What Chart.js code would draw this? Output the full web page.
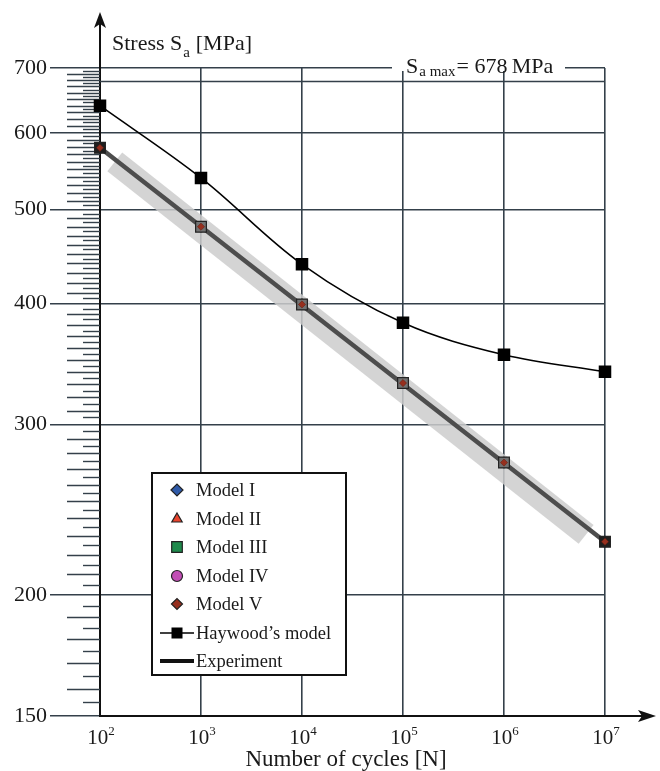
<!DOCTYPE html>
<html><head><meta charset="utf-8">
<script src="https://cdn.jsdelivr.net/npm/chart.js@4/dist/chart.umd.min.js"></script>
<style>html,body{margin:0;padding:0;background:#fff}#wrap{width:660px;height:771px}</style>
</head><body><div id="wrap"><canvas id="c" width="660" height="771"></canvas></div>
<script>
// ---- data ----
const cycles = [1e2, 1e3, 1e4, 1e5, 1e6, 1e7];
const haywoodStress = [640, 539, 439, 382, 354, 340];
const modelStress = [579, 480, 399, 331, 274, 227];
const experimentCycles = [1e2, 1e7];
const experimentStress = [579, 227];
const bandCycles = [140, 6.5e6];
const bandStress = [560, 231];
const yTickValues = [150, 200, 300, 400, 500, 600, 700];
const xTickValues = [1e2, 1e3, 1e4, 1e5, 1e6, 1e7];
const xTickExponents = ['2', '3', '4', '5', '6', '7'];
const sMax = 678;
const modelNames = ['Model I', 'Model II', 'Model III', 'Model IV', 'Model V'];

const SERIF = '"Liberation Serif", "DejaVu Serif", serif';
const GRID = '#34404a';
const pts = (xs, ys) => xs.map((x, i) => ({x: x, y: ys[i]}));

const modelStyles = [
  {style: 'rectRot', r: 5, fill: '#2f5aa8', order: 4, lr: 6},
  {style: 'triangle', r: 5, fill: '#e8442e', order: 4, lr: 6},
  {style: 'rect', r: 7.6, fill: ['#1e1e1e', '#727272', '#727272', '#727272', '#727272', '#1e1e1e'], legendFill: '#1f8a4c', order: 2, lr: 7.5},
  {style: 'circle', r: 5, fill: '#c24fb5', order: 4, lr: 5.5},
  {style: 'rectRot', r: 3.6, fill: '#962f1e', order: 1, lr: 5.5}
];

const datasets = [
  {label: 'band', data: pts(bandCycles, bandStress), borderColor: 'rgba(205,205,205,0.85)', borderWidth: 24, pointRadius: 0, borderCapStyle: 'butt', order: 10, clip: false},
  {label: 'Experiment', data: pts(experimentCycles, experimentStress), borderColor: '#4d4d4d', borderWidth: 4.5, pointRadius: 0, order: 9, clip: false},
  {label: "Haywood\u2019s model", data: pts(cycles, haywoodStress), borderColor: '#000', borderWidth: 1.5, tension: 0.35,
   pointStyle: 'rect', pointRadius: 7.8, pointBackgroundColor: '#000', pointBorderColor: '#000', order: 5, clip: false}
];
modelNames.forEach((n, i) => {
  const s = modelStyles[i];
  datasets.push({label: n, data: pts(cycles, modelStress), showLine: false, pointStyle: s.style, pointRadius: s.r,
    pointBackgroundColor: s.fill, pointBorderColor: i === 4 ? '#5a1a10' : '#222', pointBorderWidth: i === 4 ? 0.5 : 1.2,
    order: s.order, clip: false, legendFill: s.legendFill || s.fill, legendRadius: s.lr});
});

const decor = {
  id: 'decor',
  beforeDatasetsDraw(chart) {
    const ctx = chart.ctx, y = chart.scales.y, a = chart.chartArea;
    ctx.save();
    const ym = y.getPixelForValue(sMax);
    ctx.strokeStyle = GRID; ctx.lineWidth = 1.6;
    ctx.beginPath(); ctx.moveTo(a.left, ym); ctx.lineTo(a.right, ym); ctx.stroke();
    const y7 = y.getPixelForValue(700);
    ctx.fillStyle = '#fff';
    ctx.fillRect(392, y7 - 3, 173, 6);
    ctx.fillStyle = '#1a1a1a';
    ctx.textBaseline = 'alphabetic'; ctx.textAlign = 'left';
    ctx.font = '22px ' + SERIF;
    ctx.fillText('S', 406, 73);
    let w = ctx.measureText('S').width;
    ctx.font = '15px ' + SERIF;
    ctx.fillText('a max', 406 + w + 1, 76);
    const w2 = ctx.measureText('a max').width;
    ctx.font = '22px ' + SERIF;
    ctx.fillText('= ' + sMax + '\u2009MPa', 406 + w + 1 + w2 + 1, 73);
    ctx.strokeStyle = GRID; ctx.lineWidth = 1.4;
    for (let v = 155; v < 700; v += 5) {
      if (yTickValues.includes(v)) continue;
      const p = Math.round(y.getPixelForValue(v)) + 0.5;
      const len = v % 10 === 0 ? 33 : 17;
      ctx.beginPath(); ctx.moveTo(a.left - len, p); ctx.lineTo(a.left, p); ctx.stroke();
    }
    ctx.restore();
  },
  afterDraw(chart) {
    const ctx = chart.ctx, a = chart.chartArea, x = chart.scales.x;
    ctx.save();
    ctx.strokeStyle = '#111'; ctx.fillStyle = '#111'; ctx.lineWidth = 2;
    ctx.beginPath(); ctx.moveTo(a.left, a.top); ctx.lineTo(a.left, 22); ctx.stroke();
    ctx.beginPath(); ctx.moveTo(a.left, 12); ctx.lineTo(a.left - 6, 28); ctx.lineTo(a.left, 24); ctx.lineTo(a.left + 6, 28); ctx.closePath(); ctx.fill();
    ctx.beginPath(); ctx.moveTo(a.right, a.bottom); ctx.lineTo(645, a.bottom); ctx.stroke();
    ctx.beginPath(); ctx.moveTo(656, a.bottom); ctx.lineTo(638, a.bottom - 6); ctx.lineTo(642, a.bottom); ctx.lineTo(638, a.bottom + 6); ctx.closePath(); ctx.fill();
    ctx.fillStyle = '#1a1a1a'; ctx.textAlign = 'left'; ctx.textBaseline = 'alphabetic';
    ctx.font = '22px ' + SERIF;
    ctx.fillText('Stress S', 112, 50);
    let w = ctx.measureText('Stress S').width;
    ctx.font = '15px ' + SERIF;
    ctx.fillText('a', 112 + w + 1, 57);
    ctx.font = '22px ' + SERIF;
    ctx.fillText(' [MPa]', 112 + w + 8, 50);
    xTickValues.forEach((v, i) => {
      const px = x.getPixelForValue(v);
      ctx.font = '21px ' + SERIF;
      const bw = ctx.measureText('10').width;
      ctx.font = '13px ' + SERIF;
      const ew = ctx.measureText(xTickExponents[i]).width;
      const start = px - (bw + ew) / 2 + 1;
      ctx.font = '21px ' + SERIF;
      ctx.fillText('10', start, 744);
      ctx.font = '13px ' + SERIF;
      ctx.fillText(xTickExponents[i], start + bw, 735);
    });
    ctx.font = '23px ' + SERIF; ctx.textAlign = 'center';
    ctx.fillText('Number of cycles [N]', 346, 766);
    const L = 152, T = 473, R = 346, B = 675;
    ctx.fillStyle = '#fff'; ctx.fillRect(L, T, R - L, B - T);
    ctx.strokeStyle = '#111'; ctx.lineWidth = 2; ctx.strokeRect(L, T, R - L, B - T);
    const rows = [490, 519, 547, 576, 604, 633, 661];
    const mx = 177;
    const legendItems = [];
    modelNames.forEach(n => legendItems.push({ds: chart.data.datasets.find(d => d.label === n), kind: 'point'}));
    legendItems.push({ds: chart.data.datasets.find(d => d.label === "Haywood\u2019s model"), kind: 'haywood'});
    legendItems.push({ds: chart.data.datasets.find(d => d.label === 'Experiment'), kind: 'line'});
    legendItems.forEach((it, i) => {
      const yy = rows[i];
      const ds = it.ds;
      if (it.kind === 'point') {
        ctx.fillStyle = ds.legendFill; ctx.strokeStyle = '#222'; ctx.lineWidth = 1.2;
        Chart.helpers.drawPoint(ctx, {pointStyle: ds.pointStyle, radius: ds.legendRadius, rotation: 0, borderWidth: 1.2}, mx, yy);
      } else if (it.kind === 'haywood') {
        ctx.strokeStyle = '#000'; ctx.lineWidth = 1.5;
        ctx.beginPath(); ctx.moveTo(160, yy); ctx.lineTo(194, yy); ctx.stroke();
        ctx.fillStyle = '#000'; ctx.fillRect(mx - 5.5, yy - 5.5, 11, 11);
      } else {
        ctx.strokeStyle = '#111'; ctx.lineWidth = 4;
        ctx.beginPath(); ctx.moveTo(160, yy); ctx.lineTo(194, yy); ctx.stroke();
      }
      ctx.fillStyle = '#1a1a1a'; ctx.textAlign = 'left'; ctx.textBaseline = 'middle';
      ctx.font = '18.5px ' + SERIF;
      ctx.fillText(ds.label, 196, yy + 1);
    });
    ctx.restore();
  }
};

new Chart(document.getElementById('c'), {
  type: 'line',
  data: {datasets: datasets},
  options: {
    responsive: false, devicePixelRatio: 1, animation: false,
    layout: {padding: {top: 68, right: 55, left: 0, bottom: 0}},
    plugins: {legend: {display: false}, tooltip: {enabled: false}},
    scales: {
      x: {
        type: 'logarithmic', min: 1e2, max: 1e7,
        afterBuildTicks: s => { s.ticks = xTickValues.map(v => ({value: v})); },
        afterFit: s => { s.height = 55; },
        ticks: {display: false},
        grid: {color: GRID, lineWidth: 1.6, drawTicks: false},
        border: {color: '#111', width: 2}
      },
      y: {
        type: 'logarithmic', min: 150, max: 700,
        afterBuildTicks: s => { s.ticks = yTickValues.map(v => ({value: v})); },
        afterFit: s => { s.width = 100; },
        ticks: {font: {family: SERIF, size: 22}, color: '#1a1a1a', padding: 3, callback: v => String(v)},
        grid: {color: GRID, lineWidth: 1.6, drawTicks: true, tickLength: 50, tickColor: GRID, tickWidth: 1.6},
        border: {color: '#111', width: 2}
      }
    }
  },
  plugins: [decor]
});
</script></body></html>
